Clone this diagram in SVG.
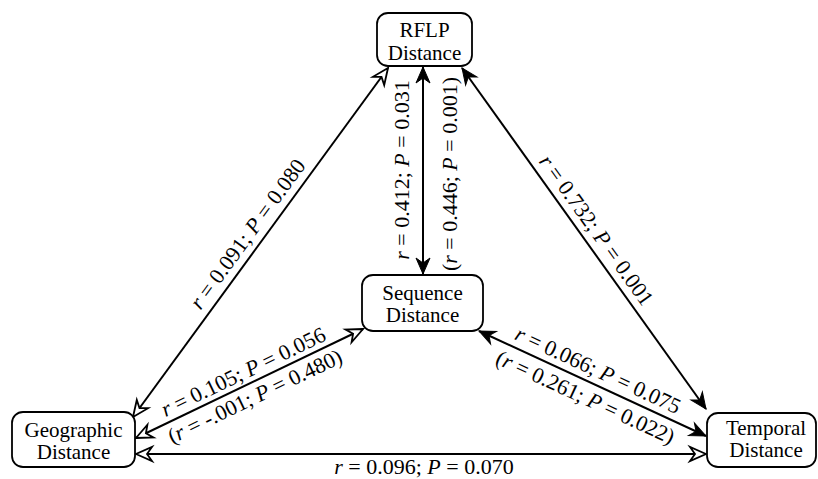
<svg xmlns="http://www.w3.org/2000/svg" width="818" height="479" viewBox="0 0 818 479">
<style>
text{font-family:"Liberation Serif","Times New Roman",serif;font-size:21px;fill:#000}
.node text{text-anchor:middle}
.lbl{text-anchor:middle;font-size:22px}
.box{fill:#fff;stroke:#000;stroke-width:1.8}
.edge{stroke:#000;stroke-width:2;fill:none}
.i{font-style:italic}
</style>
<defs>
<marker id="open" viewBox="-20 -10 24 20" refX="0" refY="0" markerWidth="24" markerHeight="20" markerUnits="userSpaceOnUse" orient="auto-start-reverse" overflow="visible">
<path d="M0,0 L-16,-7 L-11,0 L-16,7 Z" fill="#fff" stroke="#000" stroke-width="1.8" stroke-linejoin="miter"/>
</marker>
<marker id="fill" viewBox="-20 -10 24 20" refX="0" refY="0" markerWidth="24" markerHeight="20" markerUnits="userSpaceOnUse" orient="auto-start-reverse" overflow="visible">
<path d="M0,0 L-16,-7 L-11,0 L-16,7 Z" fill="#000" stroke="#000" stroke-width="1" stroke-linejoin="miter"/>
</marker>
</defs>
<g id="connectors">
<line class="edge" x1="133" y1="417" x2="388" y2="68" marker-start="url(#open)" marker-end="url(#open)"/>
<line class="edge" x1="423" y1="67" x2="423" y2="274" marker-start="url(#fill)" marker-end="url(#fill)"/>
<line class="edge" x1="462" y1="68" x2="706" y2="409" marker-start="url(#fill)" marker-end="url(#fill)"/>
<line class="edge" x1="363" y1="329" x2="136" y2="438" marker-start="url(#open)" marker-end="url(#open)"/>
<line class="edge" x1="479" y1="331" x2="706" y2="436" marker-start="url(#fill)" marker-end="url(#fill)"/>
<line class="edge" x1="136" y1="454" x2="706" y2="454" marker-start="url(#open)" marker-end="url(#open)"/>
</g>
<g id="labels">
<text class="lbl" transform="translate(260,243) rotate(-53.85)" y="-8"><tspan class="i">r</tspan> = 0.091; <tspan class="i">P</tspan> = 0.080</text>
<text class="lbl" transform="translate(409,170) rotate(-90)"><tspan class="i">r</tspan> = 0.412; <tspan class="i">P</tspan> = 0.031</text>
<text class="lbl" transform="translate(457,174) rotate(-90)">(<tspan class="i">r</tspan> = 0.446; <tspan class="i">P</tspan> = 0.001)</text>
<text class="lbl" transform="translate(584,239) rotate(54.4)" y="-8"><tspan class="i">r</tspan> = 0.732; <tspan class="i">P</tspan> = 0.001</text>
<text class="lbl" transform="translate(249,384) rotate(-25.6)" y="-6"><tspan class="i">r</tspan> = 0.105; <tspan class="i">P</tspan> = 0.056</text>
<text class="lbl" transform="translate(249,384) rotate(-25.6)" y="21">(<tspan class="i">r</tspan> = -.001; <tspan class="i">P</tspan> = 0.480)</text>
<text class="lbl" transform="translate(592,383) rotate(24.8)" y="-7"><tspan class="i">r</tspan> = 0.066; <tspan class="i">P</tspan> = 0.075</text>
<text class="lbl" transform="translate(592,383) rotate(24.8)" y="23">(<tspan class="i">r</tspan> = 0.261; <tspan class="i">P</tspan> = 0.022)</text>
<text class="lbl" x="424" y="474"><tspan class="i">r</tspan> = 0.096; <tspan class="i">P</tspan> = 0.070</text>
</g>
<g id="rflp" class="node">
<rect class="box" x="377" y="13" width="95" height="53" rx="11"/>
<text x="424.5" y="37">RFLP</text>
<text x="424.5" y="60">Distance</text>
</g>
<g id="sequence" class="node">
<rect class="box" x="362" y="275" width="121" height="56" rx="11"/>
<text x="422.5" y="300">Sequence</text>
<text x="422.5" y="322">Distance</text>
</g>
<g id="geographic" class="node">
<rect class="box" x="12" y="412" width="123" height="55" rx="11"/>
<text x="73.5" y="437">Geographic</text>
<text x="73.5" y="459">Distance</text>
</g>
<g id="temporal" class="node">
<rect class="box" x="707" y="413" width="109" height="54" rx="11"/>
<text x="766" y="435">Temporal</text>
<text x="766" y="457">Distance</text>
</g>
</svg>
